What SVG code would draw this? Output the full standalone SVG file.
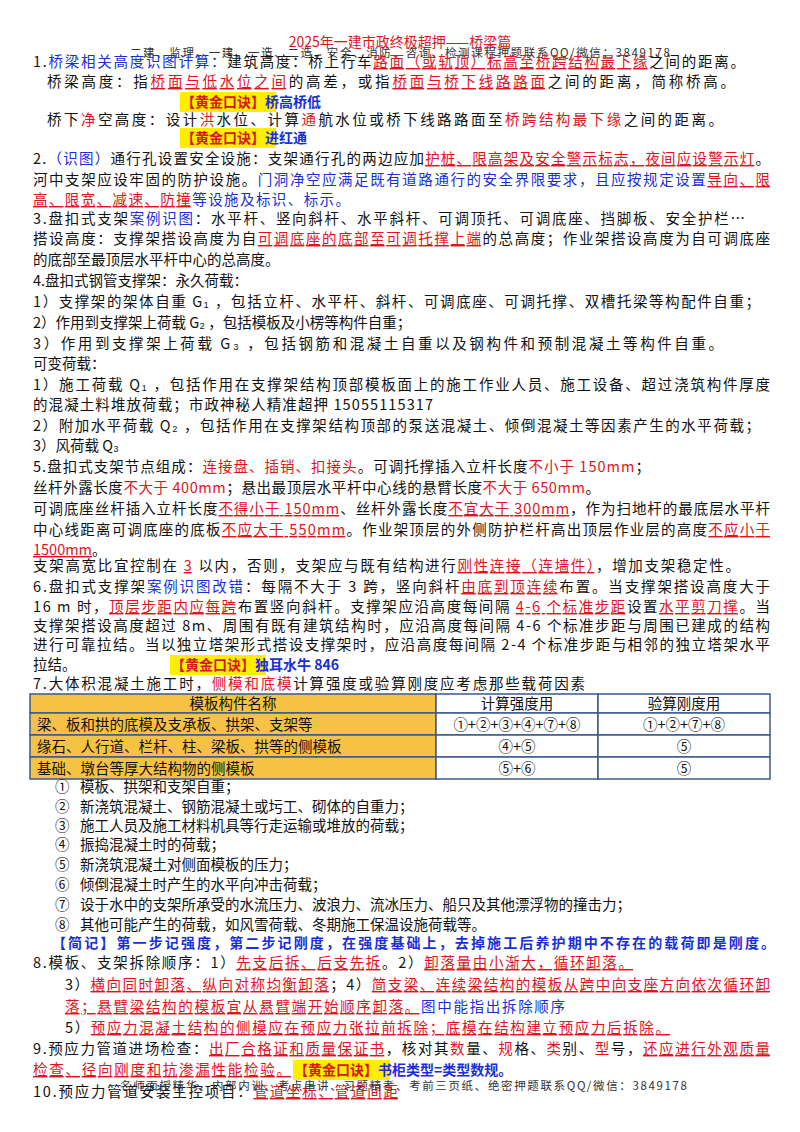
<svg xmlns="http://www.w3.org/2000/svg" width="800" height="1132" viewBox="0 0 800 1132">
<style>
text{font-family:"Noto Sans CJK SC","Liberation Sans",sans-serif;font-size:14.5px;fill:#111}
.r{fill:#e0141e}.u{fill:#e0141e;text-decoration:underline}.bl{fill:#1a2fd8}
.k{fill:#d8141e;font-weight:bold;font-size:14px}.kb{fill:#1a2fd8;font-weight:bold;font-size:14px}
.g{fill:#333;font-size:11.5px}.hl{fill:#ffee00}
.th{fill:#f6c244;stroke:#3a5a8c;stroke-width:1.5}.tw{fill:#fff;stroke:#3a5a8c;stroke-width:1.5}
</style>
<rect width="800" height="1132" fill="#fff"/>
<g id="header">
<text x="400" y="47" text-anchor="middle" class="r" style="font-size:14px">2025年一建市政终极超押——桥梁篇</text>
<text x="130" y="57" class="g" textLength="540" lengthAdjust="spacing">二建、监理、一建、一造、二造、安全、消防、咨询、检测课程押题联系QQ/微信：3849178</text>
</g>
<g id="sec1">
<text x="33" y="67" textLength="712" lengthAdjust="spacing">1.<tspan class="bl">桥梁相关高度识图计算：</tspan>建筑高度：桥上行车<tspan class="u">路面（或轨顶）标高至桥跨结构最下缘</tspan>之间的距离。</text>
<text x="47" y="87" textLength="688" lengthAdjust="spacing">桥梁高度：指<tspan class="u">桥面与低水位之间</tspan>的高差，或指<tspan class="u">桥面与桥下线路路面</tspan>之间的距离，简称桥高。</text>
<rect class="hl" x="180" y="92" width="96" height="20"/>
<text x="181" y="107" class="k">【黄金口诀】<tspan class="kb">桥高桥低</tspan></text>
<text x="47" y="125" textLength="676" lengthAdjust="spacing">桥下<tspan class="r">净</tspan>空高度：设计<tspan class="r">洪</tspan>水位、计算<tspan class="r">通</tspan>航水位或桥下线路路面至<tspan class="r">桥跨结构最下缘</tspan>之间的距离。</text>
<rect class="hl" x="180" y="128" width="96" height="20"/>
<text x="181" y="143" class="k">【黄金口诀】<tspan class="kb">进红通</tspan></text>
</g>
<g id="sec2">
<text x="33" y="164" textLength="737" lengthAdjust="spacing">2.<tspan class="bl">（识图）</tspan>通行孔设置安全设施：支架通行孔的两边应加<tspan class="u">护桩、限高架及安全警示标志，夜间应设警示灯</tspan>。</text>
<text x="33" y="185" textLength="737" lengthAdjust="spacing">河中支架应设牢固的防护设施。<tspan class="bl">门洞净空应满足既有道路通行的安全界限要求，且应按规定设置</tspan><tspan class="u">导向、限</tspan></text>
<text x="33" y="205" textLength="317" lengthAdjust="spacing"><tspan class="u">高、限宽、减速、防撞</tspan><tspan class="bl">等设施及标识、标示。</tspan></text>
</g>
<g id="sec3">
<text x="33" y="224" textLength="712" lengthAdjust="spacing">3.盘扣式支架<tspan class="bl">案例识图</tspan>：水平杆、竖向斜杆、水平斜杆、可调顶托、可调底座、挡脚板、安全护栏…</text>
<text x="33" y="244" textLength="737" lengthAdjust="spacing">搭设高度：支撑架搭设高度为自<tspan class="u">可调底座的底部至可调托撑上端</tspan>的总高度；作业架搭设高度为自可调底座</text>
<text x="33" y="265">的底部至最顶层水平杆中心的总高度。</text>
</g>
<g id="sec4">
<text x="33" y="286">4.盘扣式钢管支撑架：永久荷载：</text>
<text x="33" y="307" textLength="727" lengthAdjust="spacing">1）支撑架的架体自重 G₁ ，包括立杆、水平杆、斜杆、可调底座、可调托撑、双槽托梁等构配件自重；</text>
<text x="33" y="328">2）作用到支撑架上荷载 G₂ ，包括模板及小楞等构件自重；</text>
<text x="33" y="349" textLength="690" lengthAdjust="spacing">3）作用到支撑架上荷载 G₃ ，包括钢筋和混凝土自重以及钢构件和预制混凝土等构件自重。</text>
<text x="33" y="369">可变荷载：</text>
<text x="33" y="390" textLength="737" lengthAdjust="spacing">1）施工荷载 Q₁ ，包括作用在支撑架结构顶部模板面上的施工作业人员、施工设备、超过浇筑构件厚度</text>
<text x="33" y="410" textLength="400" lengthAdjust="spacing">的混凝土料堆放荷载；市政神秘人精准超押 15055115317</text>
<text x="33" y="431" textLength="727" lengthAdjust="spacing">2）附加水平荷载 Q₂ ，包括作用在支撑架结构顶部的泵送混凝土、倾倒混凝土等因素产生的水平荷载；</text>
<text x="33" y="451">3）风荷载 Q₃</text>
</g>
<g id="sec5">
<text x="33" y="472" textLength="617" lengthAdjust="spacing">5.盘扣式支架节点组成：<tspan class="r">连接盘、插销、扣接头</tspan>。可调托撑插入立杆长度<tspan class="r">不小于 150mm</tspan>；</text>
<text x="33" y="493" textLength="567" lengthAdjust="spacing">丝杆外露长度<tspan class="r">不大于 400mm</tspan>；悬出最顶层水平杆中心线的悬臂长度<tspan class="r">不大于 650mm</tspan>。</text>
<text x="33" y="514" textLength="737" lengthAdjust="spacing">可调底座丝杆插入立杆长度<tspan class="u">不得小于 150mm</tspan>、丝杆外露长度<tspan class="u">不宜大于 300mm</tspan>，作为扫地杆的最底层水平杆</text>
<text x="33" y="535" textLength="737" lengthAdjust="spacing">中心线距离可调底座的底板<tspan class="u">不应大于 550mm</tspan>。作业架顶层的外侧防护栏杆高出顶层作业层的高度<tspan class="u">不应小于</tspan></text>
<text x="33" y="555"><tspan class="u">1500mm</tspan>。</text>
<text x="33" y="571" textLength="707" lengthAdjust="spacing">支架高宽比宜控制在 <tspan class="u">3</tspan> 以内，否则，支架应与既有结构进行<tspan class="u">刚性连接（连墙件）</tspan>，增加支架稳定性。</text>
</g>
<g id="sec6">
<text x="33" y="592" textLength="737" lengthAdjust="spacing">6.盘扣式支撑架<tspan class="bl">案例识图改错</tspan>：每隔不大于 3 跨，竖向斜杆<tspan class="u">由底到顶连续</tspan>布置。当支撑架搭设高度大于</text>
<text x="33" y="612" textLength="737" lengthAdjust="spacing">16 m 时，<tspan class="u">顶层步距内应每跨</tspan>布置竖向斜杆。支撑架应沿高度每间隔 <tspan class="u">4-6 个标准步距</tspan>设置<tspan class="u">水平剪刀撑</tspan>。当</text>
<text x="33" y="631" textLength="737" lengthAdjust="spacing">支撑架搭设高度超过 8m、周围有既有建筑结构时，应沿高度每间隔 4-6 个标准步距与周围已建成的结构</text>
<text x="33" y="650" textLength="737" lengthAdjust="spacing">进行可靠拉结。当以独立塔架形式搭设支撑架时，应沿高度每间隔 2-4 个标准步距与相邻的独立塔架水平</text>
<text x="33" y="670">拉结。</text>
<rect class="hl" x="170" y="655" width="96" height="20"/>
<text x="171" y="670" class="k">【黄金口诀】<tspan class="kb">独耳水牛 846</tspan></text>
</g>
<g id="sec7">
<text x="33" y="689" textLength="552" lengthAdjust="spacing">7.大体积混凝土施工时，<tspan class="r">侧模和底模</tspan>计算强度或验算刚度应考虑那些载荷因素</text>
<g id="table">
<rect class="th" x="30" y="694" width="406" height="19"/>
<rect class="tw" x="436" y="694" width="162" height="19"/>
<rect class="tw" x="598" y="694" width="172" height="19"/>
<rect class="th" x="30" y="713" width="406" height="22"/>
<rect class="tw" x="436" y="713" width="162" height="22"/>
<rect class="tw" x="598" y="713" width="172" height="22"/>
<rect class="th" x="30" y="735" width="406" height="22"/>
<rect class="tw" x="436" y="735" width="162" height="22"/>
<rect class="tw" x="598" y="735" width="172" height="22"/>
<rect class="th" x="30" y="757" width="406" height="22"/>
<rect class="tw" x="436" y="757" width="162" height="22"/>
<rect class="tw" x="598" y="757" width="172" height="22"/>
<text x="233" y="709" text-anchor="middle">模板构件名称</text>
<text x="517" y="709" text-anchor="middle">计算强度用</text>
<text x="684" y="709" text-anchor="middle">验算刚度用</text>
<text x="37" y="730">梁、板和拱的底模及支承板、拱架、支架等</text>
<text x="517" y="730" text-anchor="middle">①+②+③+④+⑦+⑧</text>
<text x="684" y="730" text-anchor="middle">①+②+⑦+⑧</text>
<text x="37" y="752">缘石、人行道、栏杆、柱、梁板、拱等的侧模板</text>
<text x="517" y="752" text-anchor="middle">④+⑤</text>
<text x="684" y="752" text-anchor="middle">⑤</text>
<text x="37" y="774">基础、墩台等厚大结构物的侧模板</text>
<text x="517" y="774" text-anchor="middle">⑤+⑥</text>
<text x="684" y="774" text-anchor="middle">⑤</text>
</g>
<g id="list">
<text x="55" y="792">①</text><text x="80" y="792">模板、拱架和支架自重；</text>
<text x="55" y="812">②</text><text x="80" y="812">新浇筑混凝土、钢筋混凝土或圬工、砌体的自重力；</text>
<text x="55" y="831">③</text><text x="80" y="831">施工人员及施工材料机具等行走运输或堆放的荷载；</text>
<text x="55" y="850">④</text><text x="80" y="850">振捣混凝土时的荷载；</text>
<text x="55" y="870">⑤</text><text x="80" y="870">新浇筑混凝土对侧面模板的压力；</text>
<text x="55" y="890">⑥</text><text x="80" y="890">倾倒混凝土时产生的水平向冲击荷载；</text>
<text x="55" y="910">⑦</text><text x="80" y="910">设于水中的支架所承受的水流压力、波浪力、流冰压力、船只及其他漂浮物的撞击力；</text>
<text x="55" y="930">⑧</text><text x="80" y="930">其他可能产生的荷载，如风雪荷载、冬期施工保温设施荷载等。</text>
</g>
<text x="52" y="948" class="kb" textLength="723" lengthAdjust="spacing">【简记】第一步记强度，第二步记刚度，在强度基础上，去掉施工后养护期中不存在的载荷即是刚度。</text>
</g>
<g id="sec8">
<text x="33" y="968" textLength="600" lengthAdjust="spacing">8.模板、支架拆除顺序：1）<tspan class="u">先支后拆、后支先拆</tspan>。2）<tspan class="u">卸落量由小渐大，循环卸落。</tspan></text>
<text x="65" y="990" textLength="705" lengthAdjust="spacing">3）<tspan class="u">横向同时卸落、纵向对称均衡卸落</tspan>；4）<tspan class="u">简支梁、连续梁结构的模板从跨中向支座方向依次循环卸</tspan></text>
<text x="65" y="1012" textLength="500" lengthAdjust="spacing"><tspan class="u">落；悬臂梁结构的模板宜从悬臂端开始顺序卸落。</tspan><tspan class="bl">图中能指出拆除顺序</tspan></text>
<text x="65" y="1033" textLength="605" lengthAdjust="spacing">5）<tspan class="u">预应力混凝土结构的侧模应在预应力张拉前拆除；底模在结构建立预应力后拆除。</tspan></text>
</g>
<g id="sec9">
<text x="33" y="1054" textLength="737" lengthAdjust="spacing">9.预应力管道进场检查：<tspan class="u">出厂合格证和质量保证书</tspan>，核对其<tspan class="r">数</tspan>量、<tspan class="r">规</tspan>格、<tspan class="r">类</tspan>别、<tspan class="r">型</tspan>号，<tspan class="u">还应进行外观质量</tspan></text>
<text x="33" y="1075" textLength="258" lengthAdjust="spacing"><tspan class="u">检查、径向刚度和抗渗漏性能检验。</tspan></text>
<rect class="hl" x="293" y="1060" width="97" height="20"/>
<text x="294" y="1075" class="k">【黄金口诀】<tspan class="kb">书柜类型=类型数规。</tspan></text>
<text x="33" y="1097" textLength="365" lengthAdjust="spacing">10.预应力管道安装主控项目：<tspan class="u">管道坐标、管道间距</tspan></text>
<text x="120" y="1090" class="g" textLength="567" lengthAdjust="spacing">名师面授精华、内部内训、考点串讲、习题精考、考前三页纸、绝密押题联系QQ/微信：3849178</text>
</g>
</svg>
